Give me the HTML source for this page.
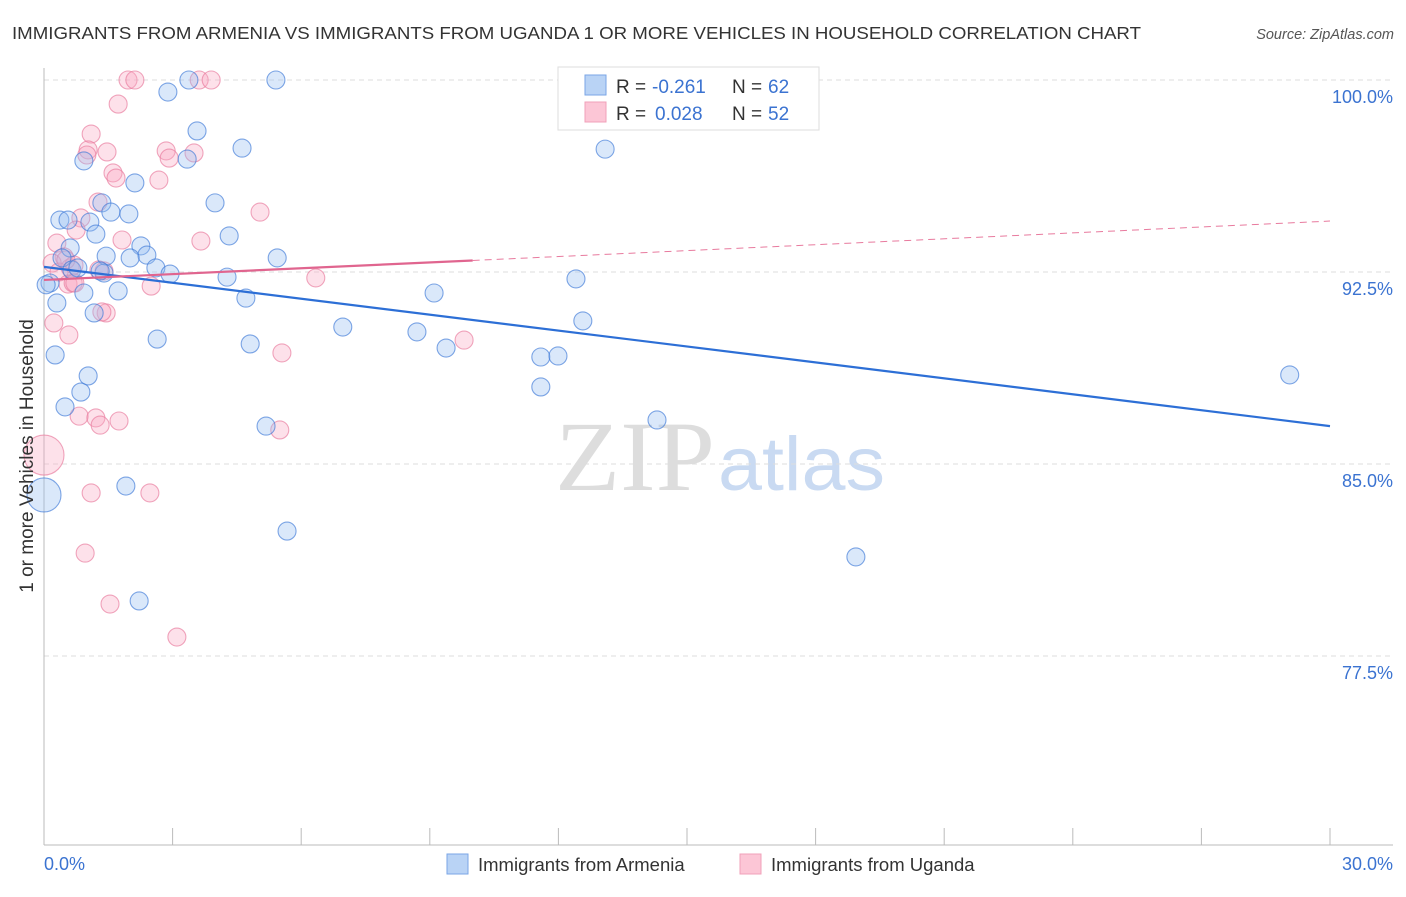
<!DOCTYPE html>
<html><head><meta charset="utf-8"><style>
body{margin:0;background:#fff;font-family:"Liberation Sans",sans-serif}
</style></head><body>
<svg id="c" width="1406" height="892" xmlns="http://www.w3.org/2000/svg">
<text x="12" y="39" font-size="17.5" fill="#333" textLength="1129" lengthAdjust="spacingAndGlyphs">IMMIGRANTS FROM ARMENIA VS IMMIGRANTS FROM UGANDA 1 OR MORE VEHICLES IN HOUSEHOLD CORRELATION CHART</text>
<text x="1394" y="39" font-size="14.5" fill="#555" text-anchor="end" font-style="italic">Source: ZipAtlas.com</text>
<g>
<text x="555" y="490" font-size="100" fill="#ddd" font-family="Liberation Serif,serif" textLength="160" lengthAdjust="spacingAndGlyphs">ZIP</text>
<text x="718" y="490" font-size="76" fill="#c9daf2" textLength="167" lengthAdjust="spacingAndGlyphs">atlas</text>
</g>
<g id="grid"></g>
<g id="axes"></g>
<g id="pts"></g>
<g id="trend"></g>
<text transform="translate(33,456) rotate(-90)" font-size="19" fill="#333" text-anchor="middle">1 or more Vehicles in Household</text>
<g>
<rect x="558" y="67" width="261" height="63" fill="#fff" stroke="#ddd"/>
<rect x="585" y="75" width="21" height="20" fill="#b9d3f5" stroke="#7aa6e6"/>
<rect x="585" y="102" width="21" height="20" fill="#fcc6d6" stroke="#f0a0b9"/>
<text x="616" y="93" font-size="19" fill="#333">R =</text>
<text x="652" y="93" font-size="19" fill="#3b73d1">-0.261</text>
<text x="732" y="93" font-size="19" fill="#333">N =</text>
<text x="768" y="93" font-size="19" fill="#3b73d1">62</text>
<text x="616" y="120" font-size="19" fill="#333">R =</text>
<text x="655" y="120" font-size="19" fill="#3b73d1">0.028</text>
<text x="732" y="120" font-size="19" fill="#333">N =</text>
<text x="768" y="120" font-size="19" fill="#3b73d1">52</text>
</g>
<g>
<rect x="447" y="854" width="21" height="20" fill="#b9d3f5" stroke="#7aa6e6"/>
<text x="478" y="871" font-size="18.5" fill="#333">Immigrants from Armenia</text>
<rect x="740" y="854" width="21" height="20" fill="#fcc6d6" stroke="#f0a0b9"/>
<text x="771" y="871" font-size="18.5" fill="#333">Immigrants from Uganda</text>
</g>
</svg>
<script>
const yTicks=[100,92.5,85,77.5];
const yTickLabels=["100.0%","92.5%","85.0%","77.5%"];
const xTickLabels=["0.0%","30.0%"];
const armX=[3.38,5.41,2.89,3.57,0.93,3.34,4.62,13.09,2.12,3.99,1.35,1.56,1.98,0.37,0.56,1.07,1.21,4.32,0.61,2.26,2.40,1.45,2.01,5.44,0.42,2.61,2.94,1.40,0.65,0.79,4.27,12.41,0.14,0.93,1.73,9.10,4.71,0.30,1.17,12.57,6.97,8.70,2.64,4.81,9.38,0.26,11.59,11.99,1.03,29.06,0.86,11.59,0.49,14.30,5.18,1.91,0.0,5.67,18.94,2.22,0.05,1.31];
const armY=[100,100,99.53,98.01,96.84,96.91,97.34,97.30,95.98,95.20,95.20,94.84,94.77,94.53,94.53,94.45,93.98,93.91,93.44,93.52,93.16,93.12,93.05,93.05,93.05,92.66,92.42,92.46,92.58,92.66,92.30,92.23,92.07,91.68,91.76,91.68,91.48,91.29,90.90,90.59,90.35,90.16,89.88,89.69,89.53,89.26,89.18,89.22,88.44,88.48,87.81,88.01,87.23,86.72,86.48,84.14,83.79,82.38,81.37,79.65,92.0,92.54];
const armR=armX.map((v,i)=>i===56?17:9);
const ugX=[1.96,2.12,3.62,3.90,1.73,1.10,1.03,1.00,1.47,1.61,1.68,2.68,2.85,2.92,3.50,5.04,1.26,0.86,0.75,1.82,3.66,0.30,0.47,0.19,0.61,0.70,0.35,0.56,0.68,1.40,2.50,6.34,0.23,1.45,1.35,0.58,9.80,5.55,0.82,1.21,1.75,1.31,5.50,0,1.10,2.47,0.96,1.54,3.10,0.72,0.51,1.28];
const ugY=[100,100,100,100,99.06,97.89,97.27,97.07,97.19,96.37,96.17,96.09,97.23,96.95,97.15,94.84,95.23,94.61,94.14,93.75,93.71,93.63,93.09,92.85,92.66,92.77,92.50,92.03,92.07,92.54,91.95,92.27,90.51,90.90,90.94,90.04,89.84,89.34,86.87,86.80,86.68,86.52,86.33,85.35,83.87,83.87,81.52,79.53,78.24,92.07,92.97,92.58];
const ugR=ugX.map((v,i)=>i===43?20:9);
const armTrend=[[0,92.70],[30,86.48]];
const ugTrendSolid=[[0,92.19],[10,92.95]];
const ugTrendDash=[[10,92.95],[30,94.49]];
const NS="http://www.w3.org/2000/svg";
const X=v=>44+v*(1286/30);
const Y=v=>80+(100-v)*25.6;
function mk(tag,attrs,parent){const e=document.createElementNS(NS,tag);for(const k in attrs)e.setAttribute(k,attrs[k]);document.getElementById(parent).appendChild(e);return e;}
yTicks.forEach((t,i)=>{
 let l=mk('line',{x1:44,x2:1393,y1:Y(t),y2:Y(t),stroke:'#ddd','stroke-dasharray':'5,4'},'grid');
 
 
 let tx=mk('text',{x:1393,y:Y(t)+23,'font-size':18,fill:'#3b73d1','text-anchor':'end'},'grid');
 tx.textContent=yTickLabels[i];
 
 
});
let ax=mk('line',{x1:44,x2:1393,y1:845,y2:845,stroke:'#bbb'},'axes');


let ay=mk('line',{x1:44,x2:44,y1:68,y2:845,stroke:'#bbb'},'axes');


for(let i=0;i<=10;i++){
 let t=mk('line',{x1:X(i*3),x2:X(i*3),y1:828,y2:845,stroke:'#bbb'},'axes');
 
 
}
let x0=mk('text',{x:44,y:870,'font-size':18,fill:'#3b73d1'},'axes');x0.textContent=xTickLabels[0];


let x1=mk('text',{x:1393,y:870,'font-size':18,fill:'#3b73d1','text-anchor':'end'},'axes');x1.textContent=xTickLabels[1];


ugX.forEach((v,i)=>{
 let c=mk('circle',{cx:X(v),cy:Y(ugY[i]),r:ugR[i],fill:'rgba(248,170,195,0.35)',stroke:'rgba(232,120,155,0.65)','stroke-width':1.1},'pts');
 
 
});
armX.forEach((v,i)=>{
 let c=mk('circle',{cx:X(v),cy:Y(armY[i]),r:armR[i],fill:'rgba(150,190,240,0.35)',stroke:'rgba(60,120,215,0.65)','stroke-width':1.1},'pts');
 
 
});
function tl(p,attrs,name){let l=mk('line',Object.assign({x1:X(p[0][0]),y1:Y(p[0][1]),x2:X(p[1][0]),y2:Y(p[1][1])},attrs),'trend');
 
 }
tl(ugTrendDash,{stroke:'#e87a9e','stroke-width':1,'stroke-dasharray':'7,5'},'uganda-trend-extension');
tl(armTrend,{stroke:'#2d6fd6','stroke-width':2.2},'armenia-trend-line');
tl(ugTrendSolid,{stroke:'#e0658f','stroke-width':2.2},'uganda-trend-line');
</script>
</body></html>
